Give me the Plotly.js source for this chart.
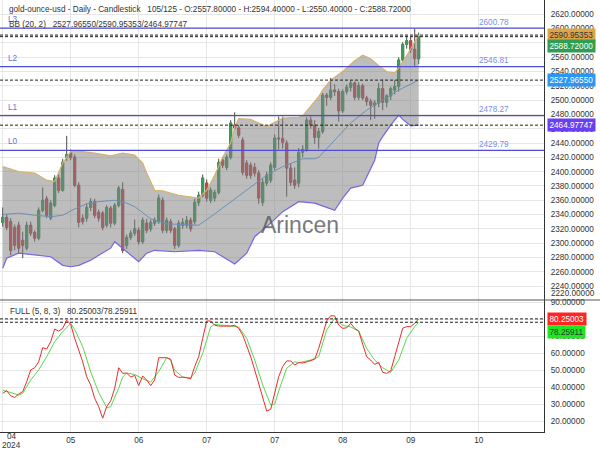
<!DOCTYPE html>
<html><head><meta charset="utf-8">
<script src="https://cdn.plot.ly/plotly-3.0.1.min.js"></script>
<style>html,body{margin:0;padding:0;background:#fff}#chart{width:600px;height:450px}</style>
</head><body><div id="chart"></div>
<script>
// ---- data ----
const openP  = [2329,2336,2330,2322,2325,2304,2293,2325,2315,2307,2346,2362,2335,2353,2391,2374,2420,2426,2420,2381,2335,2335,2350,2358,2343,2342,2325,2349,2328,2353,2375,2297,2308,2314,2318,2302,2328,2320,2328,2330,2360,2318,2330,2320,2297,2325,2325,2332,2330,2357,2367,2384,2360,2363,2371,2416,2406,2420,2465,2461,2444,2412,2409,2406,2398,2357,2384,2388,2406,2447,2446,2440,2405,2388,2384,2427,2431,2472,2465,2448,2456,2507,2504,2514,2512,2485,2512,2518,2524,2504,2520,2503,2498,2493,2496,2516,2497,2506,2514,2519,2556,2578,2583,2571,2557.8];
const highP  = [2350,2340,2335,2326,2330,2316,2330,2330,2318,2350,2378,2366,2360,2395,2396,2418,2450,2431,2424,2385,2340,2355,2363,2362,2347,2345,2353,2352,2356,2380,2385,2312,2318,2333,2322,2336,2334,2333,2336,2368,2364,2336,2334,2323,2332,2335,2338,2336,2362,2372,2396,2389,2378,2375,2418,2420,2424,2472,2483,2465,2448,2416,2413,2412,2402,2390,2400,2413,2452,2477,2477,2444,2412,2406,2433,2437,2476,2477,2472,2461,2510,2510,2531,2522,2516,2515,2522,2528,2526,2525,2523,2506,2502,2500,2524,2529,2508,2519,2528,2560,2581,2590,2589,2600,2594.4];
const lowP   = [2323,2318,2283,2290,2285,2279,2290,2310,2302,2304,2343,2335,2332,2350,2370,2372,2415,2416,2378,2322,2326,2330,2345,2335,2330,2318,2322,2322,2325,2350,2286,2292,2304,2310,2298,2299,2314,2316,2324,2327,2314,2314,2314,2292,2294,2320,2321,2316,2326,2352,2364,2358,2356,2358,2368,2405,2402,2417,2458,2447,2395,2390,2390,2393,2355,2352,2380,2384,2402,2431,2432,2365,2380,2376,2378,2420,2428,2460,2439,2432,2453,2492,2500,2506,2470,2482,2508,2512,2500,2500,2500,2492,2472,2474,2490,2486,2490,2500,2508,2512,2553,2572,2566,2546,2550.4];
const closeP = [2336,2322,2290,2297,2293,2297,2325,2314,2307,2346,2360,2339,2356,2391,2374,2413,2424,2420,2381,2329,2330,2350,2358,2339,2335,2322,2350,2328,2353,2377,2290,2308,2314,2320,2302,2332,2318,2329,2332,2363,2318,2332,2318,2297,2328,2329,2332,2320,2357,2367,2391,2363,2374,2371,2413,2409,2420,2468,2461,2451,2399,2395,2395,2398,2363,2385,2395,2409,2447,2446,2441,2405,2385,2381,2427,2431,2472,2465,2448,2456,2507,2504,2514,2512,2485,2512,2518,2524,2504,2520,2503,2498,2493,2496,2516,2497,2506,2516,2519,2556,2578,2583,2571,2558,2588.72];

const bbUpperX = [0,4,8,11,13,15,17,20,23,27,30,33,35,36,38,40,44,48,49,51,53,55,57,58,59,62,66,70,74,75,77,79,80,82,85,88,90,92,94,96,98,99,101,103,104];
const bbUpper  = [2407,2400,2398,2388,2386,2412,2428,2428,2426,2422,2426,2423,2412,2398,2374,2373,2367,2363,2363,2374,2395,2420,2440,2462,2474,2473,2463,2475,2476,2478,2492,2505,2514,2528,2540,2555,2563,2558,2548,2540,2538,2545,2562,2582,2590.95353];
const bbLowerX = [0,1,4,8,12,15,17,19,22,24,27,28,30,32,34,36,38,43,47,49,53,56,58,61,63,67,70,74,78,81,83,85,87,90,91,93,94,95,97,99,100,102,104];
const bbLower  = [2265,2279,2286,2283,2281,2269,2267,2269,2276,2283,2293,2302,2293,2283,2274,2286,2290,2288,2289,2290,2288,2278,2271,2286,2309,2328,2344,2358,2356,2350,2346,2363,2377,2381,2393,2416,2440,2449,2465,2479,2473,2464,2464.97747];
const bbMidX   = [0,4,8,12,15,18,21,24,28,31,33,37,41,46,49,53,58,62,66,70,73,75,78,79,81,83,85,87,91,95,99,104];
const bbMid    = [2340,2342,2339,2337,2339,2348,2355,2358,2360,2356,2351,2334,2327,2326,2325,2341,2362,2379,2395,2407,2414,2418,2418,2420,2432,2444,2456,2468,2486,2500,2514,2527.9655];

const stochK = [36.4,38,35,34,36,37.4,43.3,50.2,51.5,55,63.3,62.5,66.8,74.3,73,74.7,79.5,77,68.8,62,55,46.2,41.4,33.5,28.6,21.8,28.6,32,39.4,51.5,48.2,48.4,46,47,41,46.6,44.3,41,44.3,57.4,57.4,57.4,56.5,47.2,45.8,46,45.6,44.9,52.2,58,68.8,79,79,76.5,76,76,76,76,76.5,74.7,70.8,64.9,58,50.2,42.4,33.5,26,27,35.9,46.2,52.2,55.5,55.5,53.1,54.5,54.3,54.9,55.5,56.5,62.9,71.8,79,82.1,82,76.6,74.7,75,77.6,74.7,73.1,65.3,58,56,53.5,54.7,48.8,48.2,49.6,58,66.8,74.7,75.7,75.7,77.6,80.25003];
const stochDX = [0,2,4,5,7,9,11,13,15,17,18,20,22,24,26,27,29,30,31,33,35,37,39,41,42,43,45,47,48,50,52,53,58,59,61,63,65,67,68,69,71,73,74,77,79,81,83,84,85,87,89,91,93,95,97,99,101,103,104];
const stochD  = [38.4,37,35.4,36.4,44.3,50.2,58,66.8,72.7,77.5,74,64,49,37,28,28.6,39.4,46,48.4,47.5,45,43,49.2,57.4,56,50,46,45.6,48.2,60,75.5,77,76,75.5,68.8,56.1,41.4,29.6,30,37.8,51.2,55,54.5,56,58,73.7,80.6,78.2,76.5,75.5,73,62.9,56,51.5,48.8,56,68.8,75.7,78.25911];

const levelNames  = ["L0","L1","L2","L3"];
const levelValues = [2429.79,2478.27,2546.81,2600.78];
const priceMarks  = [2590.95353,2588.72,2527.9655,2464.97747];
const priceMarkText = ["2590.95353","2588.72000","2527.96550","2464.97747"];
const stochMarks  = [80.25003,78.25911];
const stochMarkText = ["80.25003","78.25911"];
const tickIdx  = [0,17,34,51,68,85,102,119];
const tickText = ["","05","06","07","07","08","09","10"];
const firstTickMonth = "04", firstTickYear = "2024";

// ---- build ----
const idx = closeP.map((_, i) => i);
const bodyHigh = openP.map((o, i) => Math.max(o, closeP[i]));
const bodyLow  = openP.map((o, i) => Math.min(o, closeP[i]));
const GREEN = '#3a9d58', RED = '#c4474a';

const traces = [
  {type:'scatter', mode:'lines', x:bbLowerX, y:bbLower, line:{color:'#7466e6', width:1.2}, hoverinfo:'skip', xaxis:'x', yaxis:'y'},
  {type:'scatter', mode:'lines', x:bbUpperX, y:bbUpper, line:{color:'#d6b26a', width:1.2}, fill:'tonexty', fillcolor:'rgba(128,128,128,0.52)', hoverinfo:'skip', xaxis:'x', yaxis:'y'},
  {type:'scatter', mode:'lines', x:bbMidX, y:bbMid, line:{color:'#6c8fb8', width:1}, hoverinfo:'skip', xaxis:'x', yaxis:'y'},
  {type:'candlestick', x:idx, open:openP, high:highP, low:lowP, close:closeP,
   increasing:{line:{color:'#4a4a4a', width:1}, fillcolor:'#4a4a4a'},
   decreasing:{line:{color:'#4a4a4a', width:1}, fillcolor:'#4a4a4a'},
   hoverinfo:'skip', xaxis:'x', yaxis:'y'},
  {type:'candlestick', x:idx, open:openP, high:bodyHigh, low:bodyLow, close:closeP,
   increasing:{line:{color:GREEN, width:1}, fillcolor:GREEN},
   decreasing:{line:{color:RED, width:1}, fillcolor:RED},
   hoverinfo:'skip', xaxis:'x', yaxis:'y'},
  {type:'scatter', mode:'lines', x:stochDX, y:stochD, line:{color:'#5ad84a', width:1}, hoverinfo:'skip', xaxis:'x', yaxis:'y2'},
  {type:'scatter', mode:'lines', x:idx, y:stochK, line:{color:'#ee2a2a', width:1}, hoverinfo:'skip', xaxis:'x', yaxis:'y2'}
];

const FS = 8.2;
const PW = 544, PH = 432;
const shapes = [];
const annotations = [];

levelValues.forEach((v, k) => {
  shapes.push({type:'line', xref:'paper', x0:0, x1:1, yref:'y', y0:v, y1:v, line:{color:'#4d4dd2', width:1.2}});
  annotations.push({xref:'paper', x:6/PW, xanchor:'left', yref:'y', y:v, yshift:8.5, text:levelNames[k], showarrow:false, font:{size:FS, color:'#5a76d8'}});
  annotations.push({xref:'paper', x:494/PW, xanchor:'center', yref:'y', y:v, yshift:6, text:v.toFixed(2), showarrow:false, font:{size:FS, color:'#7790e6'}});
});
priceMarks.forEach(v => shapes.push({type:'line', xref:'paper', x0:0, x1:1, yref:'y', y0:v, y1:v, line:{color:'#222', width:1, dash:'3px,2px'}}));
stochMarks.forEach(v => shapes.push({type:'line', xref:'paper', x0:0, x1:1, yref:'y2', y0:v, y1:v, line:{color:'#222', width:1, dash:'3px,2px'}}));
// pane separator
shapes.push({type:'line', xref:'paper', x0:0, x1:600/PW, yref:'paper', y0:132/PH, y1:132/PH, line:{color:'#555', width:1}});

const priceBg = ['#dba548','#2f9e52','#2b96f3','#6a40ee'];
const priceFg = ['#333','#fff','#fff','#fff'];
const priceShift = [0,-9.5,0,0];
priceMarks.forEach((v, k) => annotations.push({xref:'paper', x:1, xanchor:'left', xshift:3, yref:'y', y:v, yshift:priceShift[k], text:priceMarkText[k], showarrow:false, bgcolor:priceBg[k], borderpad:1.5, font:{size:FS, color:priceFg[k]}}));
const stochBg = ['#ff2525','#22e622'];
const stochFg = ['#fff','#333'];
const stochShift = [0,-9.5];
stochMarks.forEach((v, k) => annotations.push({xref:'paper', x:1, xanchor:'left', xshift:3, yref:'y2', y:v, yshift:stochShift[k], text:stochMarkText[k], showarrow:false, bgcolor:stochBg[k], borderpad:1.5, font:{size:FS, color:stochFg[k]}}));

// axis label that sits on the pane edge
annotations.push({xref:'paper', x:1, xanchor:'left', xshift:5, yref:'paper', y:(PH-293)/PH, yanchor:'middle', text:'2220.00000', showarrow:false, font:{size:FS, color:'#333'}});
// first x tick label (month + year), drawn beside the left edge
annotations.push({xref:'paper', x:11.5/PW, xanchor:'center', yref:'paper', y:(PH-436.5)/PH, yanchor:'middle', text:firstTickMonth, showarrow:false, font:{size:FS, color:'#333'}});
annotations.push({xref:'paper', x:11.7/PW, xanchor:'center', yref:'paper', y:(PH-445.5)/PH, yanchor:'middle', text:firstTickYear, showarrow:false, font:{size:FS, color:'#333'}});

const sp = '\u00a0\u00a0\u00a0';
annotations.push({xref:'paper', x:7/PW, xanchor:'left', yref:'paper', y:(PH-10)/PH, yanchor:'middle', showarrow:false, font:{size:FS, color:'#333'},
  text:'gold-ounce-usd - Daily - Candlestick' + sp + '105/125 - O:2557.80000 - H:2594.40000 - L:2550.40000 - C:2588.72000'});
annotations.push({xref:'paper', x:7/PW, xanchor:'left', yref:'paper', y:(PH-25)/PH, yanchor:'middle', showarrow:false, font:{size:FS, color:'#333'},
  text:'BB (20, 2)' + sp + '2527.96550/2590.95353/2464.97747'});
annotations.push({xref:'paper', x:8/PW, xanchor:'left', yref:'paper', y:(PH-311)/PH, yanchor:'middle', showarrow:false, font:{size:FS, color:'#333'},
  text:'FULL (5, 8, 3)' + sp + '80.25003/78.25911'});
annotations.push({xref:'paper', x:300/PW, xanchor:'center', yref:'paper', y:(PH-225)/PH, yanchor:'middle', showarrow:false, font:{size:23, color:'rgba(85,85,85,0.8)'}, text:'Arincen'});

const layout = {
  width:600, height:450, margin:{l:0, r:56, t:0, b:18, pad:0},
  paper_bgcolor:'#fff', plot_bgcolor:'#fff', showlegend:false,
  font:{family:'"Liberation Sans", Arial, sans-serif', size:FS, color:'#333'},
  xaxis:{range:[-0.675, 135.325], tickmode:'array', tickvals:tickIdx, ticktext:tickText, showgrid:true, gridcolor:'#e6e6e6', zeroline:false,
         showline:true, linecolor:'#333', linewidth:1, anchor:'y2', ticks:'', rangeslider:{visible:false}, tickfont:{size:FS, color:'#333'}},
  yaxis:{domain:[132/PH, 1], side:'right', range:[2220.5, 2640], tick0:2220, dtick:20, tickformat:'.5f', showgrid:true, gridcolor:'#e6e6e6',
         zeroline:false, showline:true, linecolor:'#333', linewidth:1, ticks:'outside', ticklen:4, tickcolor:'rgba(0,0,0,0)', tickfont:{size:FS, color:'#333'}},
  yaxis2:{domain:[0, 132/PH], side:'right', range:[13.7, 91.35], tick0:0, dtick:10, tickformat:'.5f', showgrid:true, gridcolor:'#e6e6e6',
          zeroline:false, showline:true, linecolor:'#333', linewidth:1, ticks:'outside', ticklen:4, tickcolor:'rgba(0,0,0,0)', tickfont:{size:FS, color:'#333'}},
  shapes:shapes, annotations:annotations
};
Plotly.newPlot('chart', traces, layout, {staticPlot:true, displayModeBar:false});
</script></body></html>
